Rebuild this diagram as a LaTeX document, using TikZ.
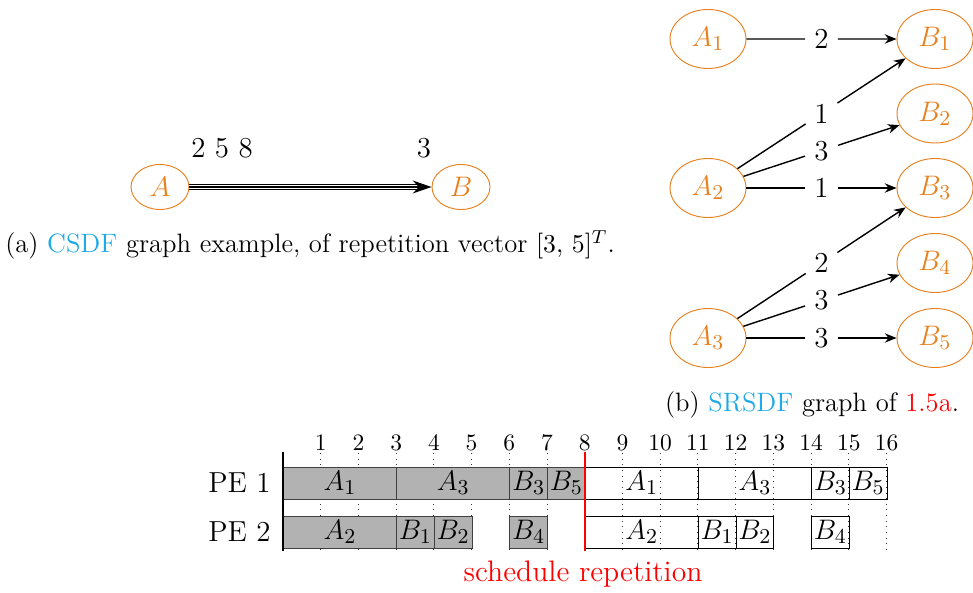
\documentclass[tikz,border=0pt]{standalone}
\usetikzlibrary{shapes.geometric,arrows.meta,calc}
\definecolor{actor}{RGB}{232,128,30}
\definecolor{refc}{RGB}{30,170,230}
\begin{document}
\begin{tikzpicture}[x=0.425pt,y=-0.425pt,
  font=\fontsize{12.3}{14}\selectfont,
  capfont/.style={font=\fontsize{11.3}{13}\selectfont},
  actorA/.style={ellipse,draw=actor,text=actor,minimum width=58*0.425pt,minimum height=45*0.425pt,inner sep=0pt,font=\fontsize{13}{15}\selectfont},
  actorB/.style={ellipse,draw=actor,text=actor,minimum width=76*0.425pt,minimum height=59*0.425pt,inner sep=0pt},
  rate/.style={inner sep=0pt,minimum width=32*0.425pt,minimum height=20*0.425pt},
  arr/.style={-{Stealth[length=5pt,width=4pt]},semithick},
  bigarr/.style={-{Stealth[length=8pt,width=5.5pt]},semithick},
  gbox/.style={draw=black!75,fill=black!30,inner sep=0pt,minimum height=32*0.425pt,anchor=west,font=\fontsize{13}{15}\selectfont},
  wbox/.style={draw=black,inner sep=0pt,minimum height=32*0.425pt,anchor=west,font=\fontsize{13}{15}\selectfont},
  tick/.style={inner sep=0pt,font=\fontsize{10}{12}\selectfont}]
\useasboundingbox (0,0) rectangle (973,592);
% ---- (a)
\node[actorA] (A) at (160,187) {$A$};
\node[actorA] (B) at (461,187) {$B$};
\draw[double distance=1.4pt,semithick,shorten >=6pt] (A) -- (B);
\draw[bigarr] (A) -- (B);
\node (pa) at (222,148) {2 5 8};
\node (pb) at (424,148) {3};
\node[capfont] (capa) at (310,245) {(a) \textcolor{refc}{CSDF} graph example, of repetition vector $[3,\,5]^T$.};
% ---- (b)
\node[actorB] (A1) at (708,39) {$A_1$};
\node[actorB] (A2) at (708,188) {$A_2$};
\node[actorB] (A3) at (708,338) {$A_3$};
\node[actorB] (B1) at (935,39) {$B_1$};
\node[actorB] (B2) at (935,113.5) {$B_2$};
\node[actorB] (B3) at (935,188) {$B_3$};
\node[actorB] (B4) at (935,263) {$B_4$};
\node[actorB] (B5) at (935,338) {$B_5$};
\foreach \a/\b/\r/\n in {A1/B1/2/a, A2/B1/1/b, A2/B2/3/c, A2/B3/1/d, A3/B3/2/e, A3/B4/3/f, A3/B5/3/g}{
  \node[rate] (r\n) at ($(\a)!0.5!(\b)$) {\r};
  \draw[semithick] (\a) -- (r\n);
  \draw[arr] (r\n) -- (\b);
}
\node[capfont] (capb) at (812,405) {(b) \textcolor{refc}{SRSDF} graph of \textcolor{red}{1.5a}.};
% ---- schedule
\foreach \i in {1,...,16}{
  \node[tick] (t\i) at ({283+\i*37.72},443) {\i};
  \draw[dotted,black!80] ({283+\i*37.72},453) -- ({283+\i*37.72},551);
}
\node[anchor=east,inner sep=0pt] (pe1) at (271,483) {PE 1};
\node[anchor=east,inner sep=0pt] (pe2) at (271,532) {PE 2};
\foreach \s/\w/\t/\n in {0/3/A_1/a, 3/3/A_3/b, 6/1/B_3/c, 7/1/B_5/d}{
  \node[gbox,minimum width=\w*16.031pt] (g1\n) at ({283+\s*37.72},483) {$\t$};
}
\foreach \s/\w/\t/\n in {0/3/A_2/a, 3/1/B_1/b, 4/1/B_2/c, 6/1/B_4/d}{
  \node[gbox,minimum width=\w*16.031pt] (g2\n) at ({283+\s*37.72},532) {$\t$};
}
\foreach \s/\w/\t/\n in {8/3/A_1/a, 11/3/A_3/b, 14/1/B_3/c, 15/1/B_5/d}{
  \node[wbox,minimum width=\w*16.031pt] (w1\n) at ({283+\s*37.72},483) {$\t$};
}
\foreach \s/\w/\t/\n in {8/3/A_2/a, 11/1/B_1/b, 12/1/B_2/c, 14/1/B_4/d}{
  \node[wbox,minimum width=\w*16.031pt] (w2\n) at ({283+\s*37.72},532) {$\t$};
}
\coordinate (ax0) at (283,452);
\coordinate (ax1) at (283,551);
\draw[semithick] (ax0) -- (ax1);
\coordinate (rp0) at (584.8,452);
\coordinate (rp1) at (584.8,551);
\draw[red,thick] (rp0) -- (rp1);
\node[text=red,font=\fontsize{12.6}{14}\selectfont] (rep) at (583,574) {schedule repetition};
\end{tikzpicture}
\end{document}
